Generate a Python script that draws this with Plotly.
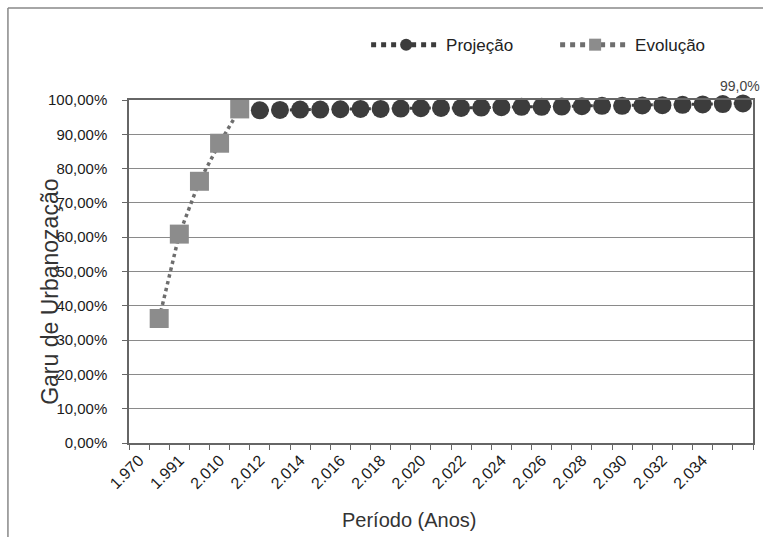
import plotly.graph_objects as go

# Category labels (31 categories; every other one labelled)
categories = ["1.970", "1.980", "1.991", "2.000", "2.010", "2.011", "2.012", "2.013",
              "2.014", "2.015", "2.016", "2.017", "2.018", "2.019", "2.020", "2.021",
              "2.022", "2.023", "2.024", "2.025", "2.026", "2.027", "2.028", "2.029",
              "2.030", "2.031", "2.032", "2.033", "2.034", "2.035", ""]

# Evolução (observed) occupies categories 1..5
evol_idx = [1, 2, 3, 4, 5]
evol_vals = [36.3, 60.9, 76.3, 87.4, 97.4]

# Projeção occupies categories 6..30
proj_idx = list(range(6, 31))
proj_vals = [97.0, 97.1, 97.2, 97.2, 97.3, 97.4, 97.4, 97.5, 97.6, 97.7,
             97.7, 97.8, 97.9, 98.0, 98.0, 98.1, 98.2, 98.3, 98.3, 98.4,
             98.5, 98.6, 98.7, 98.8, 99.0]
last_label = "99,0%"

y_ticks = [0, 10, 20, 30, 40, 50, 60, 70, 80, 90, 100]
y_ticktext = ["0,00%", "10,00%", "20,00%", "30,00%", "40,00%", "50,00%",
              "60,00%", "70,00%", "80,00%", "90,00%", "100,00%"]

FONT = "Liberation Sans Narrow, Arial Narrow, Liberation Sans, Arial, sans-serif"

fig = go.Figure()
fig.add_trace(go.Scatter(
    x=proj_idx, y=proj_vals, name="Projeção", mode="lines+markers",
    line=dict(color="#3c3c3c", width=3, dash="dot"),
    marker=dict(symbol="circle", size=18, color="#3c3c3c"),
    cliponaxis=False))
fig.add_trace(go.Scatter(
    x=evol_idx, y=evol_vals, name="Evolução", mode="lines+markers",
    line=dict(color="#6e6e6e", width=3.5, dash="dot"),
    marker=dict(symbol="square", size=19, color="#8c8c8c"),
    cliponaxis=False))

fig.add_annotation(x=proj_idx[-1], y=proj_vals[-1], text=last_label,
                   showarrow=False, yshift=17, xshift=-3,
                   font=dict(family=FONT, size=14, color="#444"))

# Axis titles as annotations
fig.add_annotation(xref="paper", yref="paper", x=-0.127, y=0.44,
                   xanchor="center", yanchor="middle",
                   text="Garu de Urbanozação", textangle=-90, showarrow=False,
                   font=dict(family=FONT, size=23, color="#333"))
fig.add_annotation(xref="paper", yref="paper", x=0.45, y=-0.224,
                   xanchor="center", yanchor="middle",
                   text="Período (Anos)", showarrow=False,
                   font=dict(family=FONT, size=20, color="#333"))

# outer frame lines
fig.add_shape(type="line", xref="paper", yref="paper",
              x0=-0.194, x1=1.1, y0=1.268, y1=1.268,
              line=dict(color="#888", width=1.5))
fig.add_shape(type="line", xref="paper", yref="paper",
              x0=-0.194, x1=-0.194, y0=1.268, y1=-0.3,
              line=dict(color="#888", width=1.5))

tickvals_x = list(range(0, 31, 2))
fig.update_xaxes(
    range=[-0.5, 30.5], tickmode="array", tickvals=tickvals_x,
    ticktext=[categories[i] for i in tickvals_x], tickangle=-45,
    ticks="", showgrid=False, zeroline=False,
    showline=True, linecolor="#666", linewidth=1.5, mirror=True,
    minor=dict(tickmode="linear", tick0=-0.5, dtick=1, ticks="outside",
               ticklen=5, tickcolor="#666", showgrid=False),
    tickfont=dict(family=FONT, size=16, color="#1a1a1a"))
fig.update_yaxes(
    range=[0, 100], tickmode="array", tickvals=y_ticks, ticktext=y_ticktext,
    ticks="outside", ticklen=5, tickcolor="#666",
    showgrid=True, gridcolor="#8a8a8a", gridwidth=1, zeroline=False,
    showline=True, linecolor="#666", linewidth=1.5, mirror=True,
    ticklabelstandoff=12,
    tickfont=dict(family=FONT, size=15, color="#1a1a1a"))

fig.update_layout(
    width=763, height=537,
    margin=dict(l=129, r=10, t=100, b=94, autoexpand=False),
    paper_bgcolor="white", plot_bgcolor="white",
    showlegend=True,
    legend=dict(orientation="h", x=0.38, y=1.16, xanchor="left", yanchor="middle",
                itemwidth=70, entrywidth=104, itemsizing="constant",
                font=dict(family=FONT, size=17, color="#222"),
                bgcolor="rgba(0,0,0,0)"),
    font=dict(family=FONT))

fig.write_html("out.html")
